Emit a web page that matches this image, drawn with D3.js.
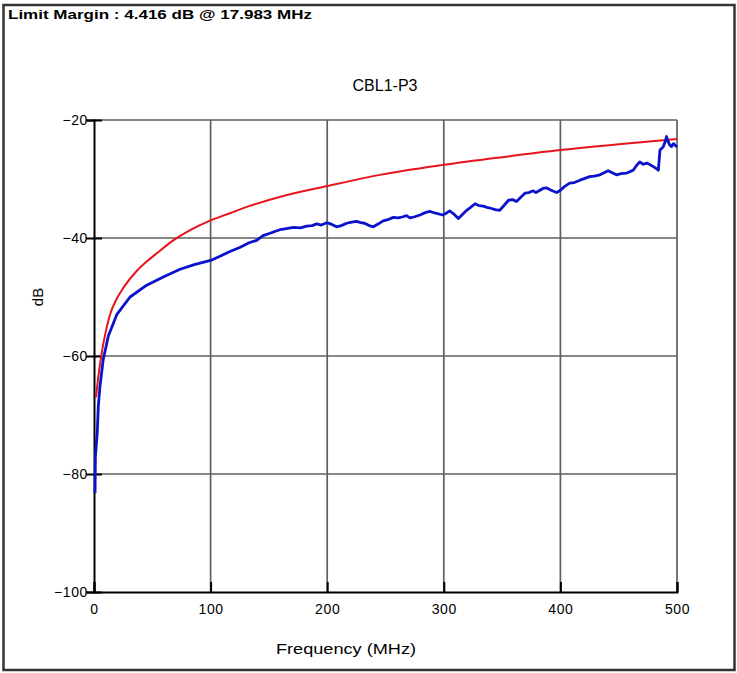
<!DOCTYPE html>
<html>
<head>
<meta charset="utf-8">
<script src="https://cdn.jsdelivr.net/npm/d3@7"></script>
<style>
  body { margin: 0; background: #fff; }
  svg text { font-family: "Liberation Sans", Arial, sans-serif; fill: #000; }
</style>
</head>
<body>
<svg id="chart" width="737" height="673"></svg>
<script>
// values
var xTicks = [0, 100, 200, 300, 400, 500];
var yTicks = [-20, -40, -60, -80, -100];

var limitFreq = [1.7, 3.7, 6.6, 9.4, 13.7, 19.5, 25, 36.6, 45.2, 53.8, 68, 82, 100, 116.6, 133, 160, 200, 245, 300, 350, 400, 450, 500];
var limitDb   = [-67, -63.5, -59.5, -56.5, -53, -50.3, -48.5, -45.6, -44.0, -42.6, -40.4, -38.7, -37.0, -35.8, -34.6, -33.0, -31.2, -29.3, -27.6, -26.3, -25.1, -24.1, -23.2];

var measFreq = [0.9, 1.2, 2.8, 3.7, 5.1, 8, 12.3, 19.5, 30.9, 45.2, 59.4, 73.8, 86, 100, 108, 116.6, 125, 133,
  139.5, 145, 151, 155, 159.5, 165, 171, 177, 182.4, 187, 191, 195, 199.6, 204, 208, 212, 216.7, 221, 225, 229, 232, 236, 239.5, 244, 248, 252, 256.7, 261, 265, 268, 271,
  275, 279.6, 284, 288, 293, 299, 302, 305, 309, 312.5, 316, 319.6, 323, 326.8, 330, 334, 337, 341, 344, 348, 352, 355.5, 359, 362.4, 366, 369.6, 373, 376.7, 379, 382.5, 385, 388,
  392, 396.8, 400, 404, 408, 412, 416.8, 421, 425, 429, 434, 437, 441, 444, 448, 452, 456.8, 459, 462.5, 465, 468, 471, 474, 477, 479.7, 482, 484, 485.4, 487, 488.3,
  490, 491, 492.5, 494, 495.4, 497, 498, 500];
var measDb = [-83.2, -77, -73, -68.5, -65.2, -60.5, -56.6, -53, -50.0, -48.0, -46.6, -45.3, -44.5, -43.8, -43.1, -42.3, -41.6, -40.8,
  -40.4, -39.6, -39.2, -38.9, -38.6, -38.4, -38.2, -38.3, -38.0, -37.9, -37.6, -37.8, -37.4, -37.7, -38.1, -37.9, -37.5, -37.3, -37.2, -37.4, -37.5, -37.9, -38.1, -37.6, -37.1, -36.9, -36.5, -36.6, -36.4, -36.2, -36.6,
  -36.4, -36.1, -35.7, -35.5, -35.8, -36.1, -35.8, -35.4, -36.0, -36.7, -36.0, -35.3, -34.8, -34.2, -34.5, -34.6, -34.8, -35.0, -35.2, -35.3, -34.4, -33.6, -33.5, -33.8, -33.1, -32.4, -32.3, -32.0, -32.3, -31.9, -31.6, -31.5,
  -31.9, -32.3, -31.9, -31.2, -30.7, -30.6, -30.2, -29.9, -29.6, -29.5, -29.3, -29.0, -28.6, -28.9, -29.3, -29.1, -29.0, -28.8, -28.5, -27.8, -27.1, -27.5, -27.3, -27.6, -27.9, -28.2, -28.5, -25.1, -24.8, -24.5,
  -23.6, -22.8, -23.7, -24.3, -24.5, -24.0, -24.2, -24.6];

var limit = limitFreq.map(function(f, i) { return {f: f, db: limitDb[i]}; });
var meas = measFreq.map(function(f, i) { return {f: f, db: measDb[i]}; });

var svg = d3.select("#chart");

var x = d3.scaleLinear().domain([0, 500]).range([94, 677]);
var y = d3.scaleLinear().domain([-100, -20]).range([592, 120]);

// outer frame
svg.append("rect")
  .attr("x", 3.5).attr("y", 5).attr("width", 731).attr("height", 665)
  .attr("fill", "none").attr("stroke", "#333").attr("stroke-width", 2.5);

svg.append("text")
  .attr("x", 8).attr("y", 19)
  .attr("font-size", 13).attr("font-weight", "bold")
  .attr("textLength", 304).attr("lengthAdjust", "spacingAndGlyphs")
  .text("Limit Margin : 4.416 dB @ 17.983 MHz");

svg.append("text")
  .attr("x", 385).attr("y", 91)
  .attr("text-anchor", "middle").attr("font-size", 16)
  .attr("textLength", 65).attr("lengthAdjust", "spacingAndGlyphs")
  .text("CBL1-P3");

// grid
var grid = svg.append("g").attr("stroke", "#5f5f5f").attr("stroke-width", 1.7);
grid.selectAll(".gx").data(xTicks.slice(1)).enter().append("line")
  .attr("x1", function(d) { return x(d); }).attr("x2", function(d) { return x(d); })
  .attr("y1", y(-20)).attr("y2", y(-100));
grid.selectAll(".gy").data(yTicks.slice(0, -1)).enter().append("line")
  .attr("x1", x(0)).attr("x2", x(500))
  .attr("y1", function(d) { return y(d); }).attr("y2", function(d) { return y(d); });

// axes
var yAxis = svg.append("g")
  .attr("transform", "translate(" + x(0) + ",0)")
  .call(d3.axisLeft(y).tickValues(yTicks).tickSize(8).tickPadding(-2).tickFormat(d3.format("d")));
yAxis.select(".domain").attr("stroke", "#000").attr("stroke-width", 2);
yAxis.selectAll(".tick line").attr("stroke", "#000").attr("stroke-width", 2).attr("x1", 8);
yAxis.selectAll(".tick text")
  .attr("font-size", 14).attr("font-family", "Liberation Sans, Arial, sans-serif")
  .attr("letter-spacing", "0.6px").attr("dy", "0.35em");

var xAxis = svg.append("g")
  .attr("transform", "translate(0," + y(-100) + ")")
  .call(d3.axisBottom(x).tickValues(xTicks).tickSize(-10).tickPadding(12));
xAxis.select(".domain").attr("stroke", "#000").attr("stroke-width", 2);
xAxis.selectAll(".tick line").attr("stroke", "#000").attr("stroke-width", 2);
xAxis.selectAll(".tick text")
  .attr("font-size", 14).attr("font-family", "Liberation Sans, Arial, sans-serif")
  .attr("letter-spacing", "0.6px");

svg.append("text")
  .attr("x", 346).attr("y", 654)
  .attr("text-anchor", "middle").attr("font-size", 15)
  .attr("textLength", 140).attr("lengthAdjust", "spacingAndGlyphs")
  .text("Frequency (MHz)");

svg.append("text")
  .attr("transform", "translate(43,297) rotate(-90)")
  .attr("text-anchor", "middle").attr("font-size", 15)
  .text("dB");

var line = d3.line()
  .x(function(d) { return x(d.f); })
  .y(function(d) { return y(d.db); });

svg.append("path")
  .datum(limit)
  .attr("fill", "none").attr("stroke", "#e8141b").attr("stroke-width", 2)
  .attr("d", line.curve(d3.curveMonotoneX));

svg.append("path")
  .datum(meas)
  .attr("fill", "none").attr("stroke", "#0a12cc").attr("stroke-width", 2.8)
  .attr("stroke-linejoin", "round")
  .attr("d", line.curve(d3.curveLinear));
</script>
</body>
</html>
